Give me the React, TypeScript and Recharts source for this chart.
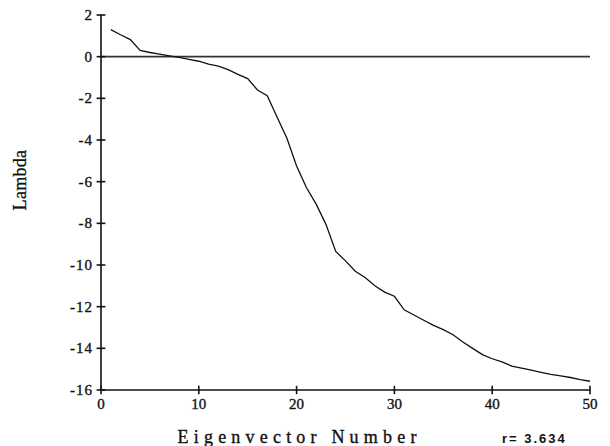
import React from "react";
import {
  LineChart,
  Line,
  XAxis,
  YAxis,
  ReferenceLine,
} from "recharts";

// eigenvalue (lambda) for each eigenvector index 1..50
const eigenvectorNumbers = [
  1, 2, 3, 4, 5, 6, 7, 8, 9, 10, 11, 12, 13, 14, 15, 16, 17, 18, 19, 20, 21,
  22, 23, 24, 25, 26, 27, 28, 29, 30, 31, 32, 33, 34, 35, 36, 37, 38, 39, 40,
  41, 42, 43, 44, 45, 46, 47, 48, 49, 50,
];
const lambdaValues = [
  1.3, 1.05, 0.82, 0.3, 0.2, 0.12, 0.04, -0.03, -0.13, -0.22, -0.36, -0.45,
  -0.62, -0.85, -1.05, -1.6, -1.87, -2.9, -3.9, -5.25, -6.28, -7.08, -8.05,
  -9.35, -9.8, -10.3, -10.6, -11.0, -11.3, -11.5, -12.15, -12.4, -12.65,
  -12.9, -13.1, -13.35, -13.7, -14.0, -14.3, -14.5, -14.65, -14.85, -14.95,
  -15.05, -15.15, -15.25, -15.32, -15.4, -15.5, -15.58,
];
const xTicks = [0, 10, 20, 30, 40, 50];
const yTicks = [2, 0, -2, -4, -6, -8, -10, -12, -14, -16];
const rValue = "3.634";

const X_MIN = 0;
const X_MAX = 50;
const Y_MIN = -16;
const Y_MAX = 2;

const data = eigenvectorNumbers.map((n, i) => ({ n, lambda: lambdaValues[i] }));

const ink = "#111";
const tickFont = {
  fontFamily: "'Liberation Serif', serif",
  fontSize: 15,
  fill: ink,
  stroke: ink,
  strokeWidth: 0.35,
};

// half-length of the cross ticks, in data units of the other axis
const xHalf = 0.45;
const yHalf = 0.2;

const YTick = (props: any) => {
  const { x, y, payload } = props;
  return (
    <text x={x} y={y} dy={5} textAnchor="end" letterSpacing={1} {...tickFont}>
      {payload.value}
    </text>
  );
};

const XTick = (props: any) => {
  const { x, y, payload } = props;
  return (
    <text x={x} y={y} dy={11} textAnchor="middle" {...tickFont}>
      {payload.value}
    </text>
  );
};

const YTitle = (props: any) => {
  const { viewBox } = props;
  const cx = viewBox.x - 21;
  const cy = viewBox.y + viewBox.height * 0.44;
  return (
    <text
      x={cx}
      y={cy}
      transform={`rotate(-90 ${cx} ${cy})`}
      textAnchor="middle"
      dominantBaseline="central"
      fontFamily="'Liberation Serif', serif"
      fontSize={18}
      fill={ink}
      stroke={ink}
      strokeWidth={0.3}
      letterSpacing={0.3}
    >
      Lambda
    </text>
  );
};

const XTitle = (props: any) => {
  const { viewBox } = props;
  const cx = viewBox.x + viewBox.width * 0.4;
  const ty = viewBox.y + 53;
  return (
    <g>
      <text
        x={cx + 3}
        y={ty}
        textAnchor="middle"
        fontFamily="'Liberation Serif', serif"
        fontSize={18}
        letterSpacing={5.2}
        fill={ink}
        stroke={ink}
        strokeWidth={0.35}
      >
        Eigenvector Number
      </text>
      <text
        x={viewBox.x + viewBox.width * 0.82}
        y={ty}
        fontFamily="'Liberation Sans', sans-serif"
        fontWeight="bold"
        fontSize={13}
        letterSpacing={2}
        fill={ink}
      >
        {`r= ${rValue}`}
      </text>
    </g>
  );
};

export default function App() {
  return (
    <div style={{ position: "absolute", left: 0, top: 0, background: "#fff" }}>
      <LineChart
        width={610}
        height={446}
        data={data}
        margin={{ top: 15, right: 20, bottom: 26, left: 41 }}
      >
        <XAxis
          dataKey="n"
          type="number"
          domain={[X_MIN, X_MAX]}
          ticks={xTicks}
          height={30}
          tickLine={false}
          tickSize={0}
          tickMargin={8}
          tick={<XTick />}
          axisLine={{ stroke: ink, strokeWidth: 1.6 }}
          label={<XTitle />}
        />
        <YAxis
          type="number"
          domain={[Y_MIN, Y_MAX]}
          ticks={yTicks}
          width={60}
          tickLine={false}
          tickSize={0}
          tickMargin={8}
          tick={<YTick />}
          axisLine={{ stroke: ink, strokeWidth: 1.6 }}
          label={<YTitle />}
          allowDataOverflow
        />
        <ReferenceLine y={0} stroke="#333" strokeWidth={1.6} />
        {/* small ticks that cross each axis line */}
        {yTicks.map((t) => (
          <ReferenceLine
            key={`yt${t}`}
            segment={[
              { x: X_MIN - xHalf, y: t },
              { x: X_MIN + xHalf, y: t },
            ]}
            stroke={ink}
            strokeWidth={1.6}
            ifOverflow="visible"
          />
        ))}
        {xTicks.map((t) => (
          <ReferenceLine
            key={`xt${t}`}
            segment={[
              { x: t, y: Y_MIN - yHalf },
              { x: t, y: Y_MIN + yHalf },
            ]}
            stroke={ink}
            strokeWidth={1.6}
            ifOverflow="visible"
          />
        ))}
        <Line
          type="linear"
          dataKey="lambda"
          stroke={ink}
          strokeWidth={1.3}
          dot={false}
          isAnimationActive={false}
        />
      </LineChart>
    </div>
  );
}
